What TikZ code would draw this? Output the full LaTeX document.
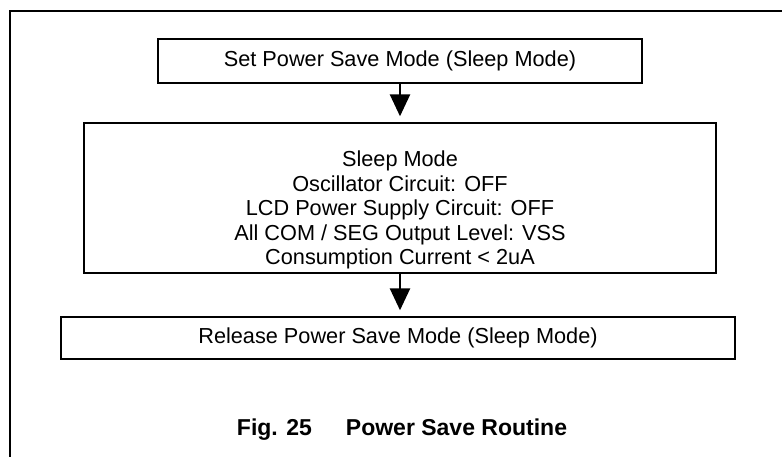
\documentclass[tikz,border=0pt]{standalone}
\usepackage{fontspec}
\setmainfont{Liberation Sans}
\usetikzlibrary{arrows.meta}
\tikzset{
  stepbox/.style={draw, line width=1.4pt, inner sep=0pt, align=center,
    font=\fontsize{21.7}{25.5}\selectfont},
  steptext/.style={inner sep=0pt, align=center,
    font=\fontsize{21.7}{24.5}\selectfont},
  flowarrow/.style={line width=2.6pt,
    -{Triangle[length=22pt,width=20pt]}, shorten >=6pt}
}
\begin{document}
\begin{tikzpicture}[x=1pt,y=-1pt]
        \useasboundingbox (0,0) rectangle (782,457);
        %cornice
        \draw[line width=1.4pt] (10,457)-- (10,11)-- (782,11);
        %blocchi
        \node[stepbox, minimum width=484pt, minimum height=44pt] (set) at (400,61) {Set Power Save Mode (Sleep Mode)};
        \node[stepbox, minimum width=632pt, minimum height=150pt] (sleep) at (400,198) {};
        \node[steptext] (sleeptext) at (400,210) {Sleep Mode\\Oscillator Circuit: OFF\\LCD Power Supply Circuit: OFF\\All COM / SEG Output Level: VSS\\Consumption Current < 2uA};
        \node[stepbox, minimum width=674pt, minimum height=42pt] (release) at (398,338) {Release Power Save Mode (Sleep Mode)};
        %frecce
        \draw[flowarrow] (set.south) -- (sleep.north);
        \draw[flowarrow] (sleep.south-|set.south) -- (release.north-|set.south);
        %didascalia
        \node[font=\fontsize{23}{26}\selectfont\bfseries] (caption) at (402,430) {Fig. 25\hspace{34pt}Power Save Routine};
\end{tikzpicture}
\end{document}
